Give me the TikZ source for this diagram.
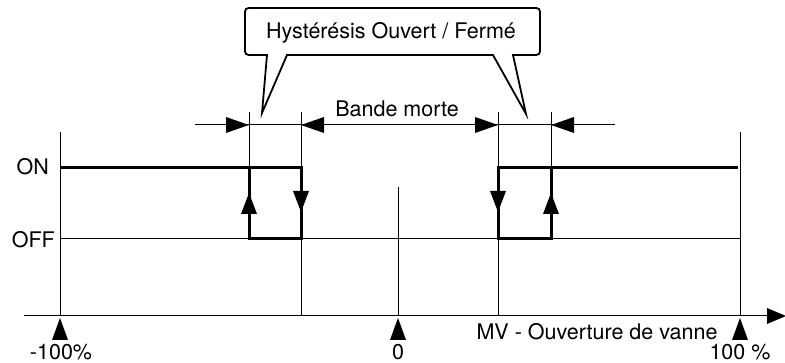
\documentclass[tikz,border=0pt]{standalone}
\usepackage{fontspec}
\setmainfont{TeX Gyre Heros}
\begin{document}
\begin{tikzpicture}[x=1pt,y=-1pt,
  thinline/.style={line width=1pt},
  thickline/.style={line width=3pt,line join=miter,line cap=butt},
  lbl/.style={inner sep=0pt,font=\fontsize{21.5}{24}\selectfont},
  tip/.style={fill=black}]
\useasboundingbox (0,0) rectangle (785,363);
% coordinates
\coordinate (L) at (60,316);
\coordinate (Z) at (398,316);
\coordinate (R) at (740,316);
% axis
\draw[thinline] (24,316) -- (768,316);
\fill[tip] (767,308) -- (786,316) -- (767,324) -- cycle;
% verticals
\draw[thinline] (60,132) -- (L);
\draw[thinline] (740,132) -- (R);
\draw[thinline] (398,187) -- (Z);
\draw[thinline] (249,112) -- (249,168);
\draw[thinline] (301,112) -- (301,316);
\draw[thinline] (498,112) -- (498,316);
\draw[thinline] (551,112) -- (551,168);
% OFF line
\draw[thinline] (60,239) -- (740,239);
% thick hysteresis paths
\draw[thickline] (60,168) -- (301,168) -- (301,239) -- (249,239) -- (249,166.5);
\draw[thickline] (738,168) -- (498,168) -- (498,239) -- (551,239) -- (551,166.5);
% direction arrows
\fill[tip] (241,214) -- (249,193) -- (257,214) -- cycle;
\fill[tip] (293,191) -- (301,212) -- (309,191) -- cycle;
\fill[tip] (490,191) -- (498,212) -- (506,191) -- cycle;
\fill[tip] (543,214) -- (551,193) -- (559,214) -- cycle;
% tick arrows below the axis
\foreach \x in {60,398,740}{\fill[tip] (\x-8,340) -- (\x,318) -- (\x+8,340) -- cycle;}
% dimension line
\draw[thinline] (195,125) -- (615,125);
\fill[tip] (226,117) -- (249,125) -- (226,133) -- cycle;
\fill[tip] (324,117) -- (301,125) -- (324,133) -- cycle;
\fill[tip] (475,117) -- (498,125) -- (475,133) -- cycle;
\fill[tip] (574,117) -- (551,125) -- (574,133) -- cycle;
% callout
\draw[line width=1.8pt,line join=miter] (262,113) -- (267,55) -- (253,55)
  .. controls (245,55) .. (245,47) -- (245,16) .. controls (245,8) .. (253,8)
  -- (532,8) .. controls (540,8) .. (540,16) -- (540,47)
  .. controls (540,55) .. (532,55) -- (513,55) -- (526,114) -- (493,55)
  -- (287,55) -- cycle;
% labels
\node[lbl] (hyst) at (391,33) {Hystérésis Ouvert / Fermé};
\node[lbl] (bande) at (397,109) {Bande morte};
\node[lbl,anchor=east] (on) at (49,167) {ON};
\node[lbl,anchor=east] (off) at (55,240) {OFF};
\node[lbl] (m100) at (61,352) {-100\%};
\node[lbl] (zero) at (398,352) {0};
\node[lbl] (p100) at (740,352) {100 \%};
\node[lbl] (mv) at (597,332) {MV - Ouverture de vanne};
\end{tikzpicture}
\end{document}
